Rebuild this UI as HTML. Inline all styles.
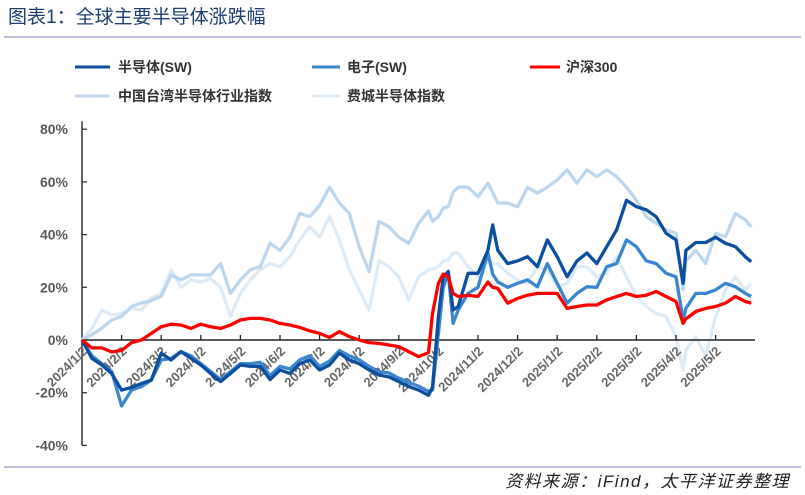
<!DOCTYPE html>
<html><head><meta charset="utf-8"><style>
body{margin:0;background:#fff;}
svg{display:block;font-family:"Liberation Sans","Noto Sans CJK SC",sans-serif;}
</style></head><body>
<svg id="chart" width="805" height="495" viewBox="0 0 805 495" xmlns="http://www.w3.org/2000/svg">
<text x="8" y="23" font-size="19" fill="#1F3F74" font-family="Liberation Sans,Noto Sans CJK SC,sans-serif">图表1：全球主要半导体涨跌幅</text>
<line x1="4" y1="37" x2="801" y2="37" stroke="#A9A9CC" stroke-width="1.5"/>
<g font-size="14" font-weight="bold" fill="#333">
<g><line x1="75" y1="67" x2="110" y2="67" stroke="#0D4F9F" stroke-width="3"/><text x="118" y="72">半导体(SW)</text></g>
<g><line x1="312" y1="67" x2="340" y2="67" stroke="#3A86D0" stroke-width="3"/><text x="347" y="72">电子(SW)</text></g>
<g><line x1="530" y1="67" x2="560" y2="67" stroke="#FF0000" stroke-width="3"/><text x="566" y="72">沪深300</text></g>
<g><line x1="75" y1="96" x2="110" y2="96" stroke="#BDD7EE" stroke-width="3"/><text x="118" y="101">中国台湾半导体行业指数</text></g>
<g><line x1="312" y1="96" x2="340" y2="96" stroke="#DDEBF7" stroke-width="3"/><text x="347" y="101">费城半导体指数</text></g>
</g>
<g id="plot"></g>
<line x1="4" y1="467" x2="801" y2="467" stroke="#A9A9CC" stroke-width="1.5"/>
<text x="790" y="487" text-anchor="end" font-size="17" letter-spacing="1.5" font-style="italic" fill="#222">资料来源：iFind，太平洋证券整理</text>
</svg>
<script>
const monthLabels=["2024/1/2","2024/2/2","2024/3/2","2024/4/2","2024/5/2","2024/6/2","2024/7/2","2024/8/2","2024/9/2","2024/10/2","2024/11/2","2024/12/2","2025/1/2","2025/2/2","2025/3/2","2025/4/2","2025/5/2"];
const yTicks=[80,60,40,20,0,-20,-40];
const monthOffset=[0,.25,.5,.75,1,1.25,1.5,1.75,2,2.25,2.5,2.75,3,3.25,3.5,3.75,4,4.25,4.5,4.75,5,5.25,5.5,5.75,6,6.25,6.5,6.75,7,7.25,7.5,7.75,8,8.25,8.5,8.75,8.85,9,9.12,9.25,9.37,9.5,9.75,10,10.25,10.37,10.5,10.75,11,11.25,11.5,11.75,12,12.25,12.5,12.75,13,13.25,13.5,13.75,14,14.25,14.5,14.75,15,15.18,15.25,15.5,15.75,16,16.25,16.5,16.75,16.9];
const csi300=[0,-3,-3,-4.5,-4,-1,0,2.5,5,6,5.7,4.4,6,5,4.4,5.7,7.6,8.2,8.2,7.6,6.3,5.7,4.8,3.5,2.5,1,3.2,1.3,0,-1,-1.3,-1.9,-2.5,-4.4,-6.3,-4.8,10,21.5,25,24,17.7,16.5,17,16.5,22,20,19.6,14,15.8,17,17.7,17.7,17.7,12,12.7,13.3,13.3,15.2,16.5,17.7,16.5,17,18.4,16.5,14.6,6.3,8,10.8,12,12.7,14,16.5,14.6,14];
const semiSW=[0,-7,-9.5,-12.7,-19,-18,-16.5,-15.2,-5,-7.6,-4.4,-7,-9.5,-12.7,-15.8,-12.7,-9.5,-10,-10,-15,-11.4,-12.7,-9,-7.6,-11.4,-9.5,-5,-7.6,-9,-11.4,-13.3,-14,-15.8,-17.7,-19,-21,-18,8.9,24,26,11.4,12.7,25.3,25.3,34,43.7,34,29,30,31.6,27.8,38,31.6,24,30,33,29,35.4,41.8,53,50.6,49.4,46.8,40.5,38,21.5,34,37,37,39,36.7,35.4,31.6,29.7];
const electronicsSW=[0,-6,-9,-12,-25,-19,-17.7,-15.2,-7.6,-7,-4.4,-6,-9,-12,-15,-12,-9,-9,-8.5,-13.5,-10,-11,-7.5,-6,-10,-8,-4,-6,-7.5,-10,-12,-12.5,-14.5,-16,-17.5,-19.5,-19,2.5,20,25.3,6.3,11.4,17.7,20,33,25,22,20,21.5,22.8,20.2,29,21.5,14,17.7,20.2,20,27.8,29,38,35.4,30,29,25.3,24,7.6,12,17.7,17.7,19,21.5,20.2,17.7,16.5];
const taiwanSemi=[0,2,4.4,7.6,8.9,12.7,14,15,16.5,24.7,22.8,24.7,24.7,24.7,29,17.7,22.8,26.6,27.8,36.7,34,39,48,46.8,51,58,52,48,35.4,26,45,43,39,36.7,44.3,49,45,46.8,50,50.6,56,58,58,54.4,59.5,56,52,52,50.6,58,55.7,58,60.8,64.6,59.5,64.6,62,64.6,62,58,53,46.8,44.3,41.8,40.5,19,30,34,29,40.5,39.2,48,45.6,43];
const soxIndex=[0,4.4,11.4,9.5,10,12,11.4,15.8,17.7,26.6,20,22.8,22,23.4,20,8.9,17.7,22.8,26.6,29,27.8,31.6,38,43,39,46.8,38,26.6,19,11.4,30,27.8,24,15.2,24,26.6,27,27.8,30,30.4,33,33,27.8,24,30.4,29,29,25.3,22.8,21.5,27.8,26.6,20.2,21.5,27.8,27.8,24,25.3,31.6,24,16.5,12.7,10,8.9,1.3,-11.4,-3.8,1.3,-6.3,8.9,19,24,19,21.5];

const NS="http://www.w3.org/2000/svg";
const plot=document.getElementById('plot');
const X0=82,MONTHW=39.6,Y0=340,PXPCT=2.635;
function xs(t){return X0+t*MONTHW;}
function ys(v){return Y0-v*PXPCT;}
function mk(tag,attrs){const e=document.createElementNS(NS,tag);for(const k in attrs)e.setAttribute(k,attrs[k]);plot.appendChild(e);return e;}

yTicks.forEach(v=>{
  const t=mk('text',{x:68,y:ys(v)+5,'text-anchor':'end','font-size':14,'font-weight':'bold',fill:'#595959'});
  
  
  t.textContent=v+'%';
  const tk=mk('line',{x1:X0,x2:X0+5,y1:ys(v),y2:ys(v),stroke:'#333','stroke-width':1.3});
  
  
});
const yAxis=mk('line',{x1:X0,x2:X0,y1:ys(80)-8,y2:ys(-40),stroke:'#333','stroke-width':1.5});



function series(vals,color,w,name){
  let d='';
  vals.forEach((v,i)=>{d+=(i?'L':'M')+xs(monthOffset[i]).toFixed(1)+' '+ys(v).toFixed(1);});
  const p=mk('path',{d:d,fill:'none',stroke:color,'stroke-width':w,'stroke-linejoin':'round'});
  
  
}
series(soxIndex,'#DDEBF7',3.3,'sox-line');
series(taiwanSemi,'#BDD7EE',3.3,'taiwan-semi-line');

const xAxis=mk('line',{x1:X0,x2:755,y1:Y0,y2:Y0,stroke:'#222','stroke-width':1.5});


monthLabels.forEach((lab,i)=>{
  const x=xs(i);
  if(i>0){const tk=mk('line',{x1:x,x2:x,y1:Y0,y2:Y0-5,stroke:'#222','stroke-width':1.3});
  
  }
  const t=mk('text',{x:x+6,y:Y0+12,'text-anchor':'end','font-size':13,'font-weight':'bold',fill:'#666',transform:`rotate(-45 ${x+6} ${Y0+12})`});
  
  
  t.textContent=lab;
});

series(electronicsSW,'#3A86D0',3.3,'electronics-sw-line');
series(semiSW,'#0D4F9F',3.3,'semiconductor-sw-line');
series(csi300,'#FF0000',3.3,'csi300-line');
</script>
</body></html>
